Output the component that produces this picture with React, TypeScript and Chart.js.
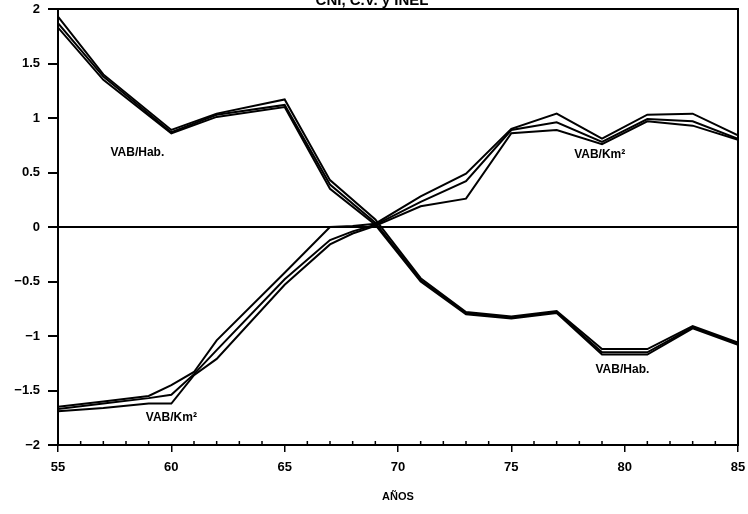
import React, { useEffect, useRef } from "react";
import { Chart, registerables } from "chart.js";

Chart.register(...registerables);

const TITLE = "CNI, C.V. y INEL";
const X_TITLE = "AÑOS";

const habYears = [55, 57, 60, 62, 65, 67, 69, 71, 73, 75, 77, 79, 81, 83, 85];
const hab1 = [1.93, 1.40, 0.89, 1.04, 1.17, 0.43, 0.07, -0.47, -0.78, -0.82, -0.77, -1.12, -1.12, -0.91, -1.06];
const hab2 = [1.87, 1.38, 0.87, 1.03, 1.12, 0.39, 0.04, -0.49, -0.79, -0.83, -0.78, -1.15, -1.15, -0.92, -1.07];
const hab3 = [1.83, 1.35, 0.86, 1.01, 1.10, 0.35, 0.02, -0.50, -0.80, -0.84, -0.79, -1.17, -1.17, -0.93, -1.08];

const kmYears = [55, 57, 59, 60, 61, 62, 65, 67, 68, 69, 71, 73, 75, 77, 79, 81, 83, 85];
const km1 = [-1.65, -1.60, -1.55, -1.45, -1.33, -1.04, -0.42, 0.00, 0.01, 0.03, 0.28, 0.49, 0.90, 1.04, 0.81, 1.03, 1.04, 0.84];
const km2 = [-1.67, -1.62, -1.57, -1.54, -1.35, -1.13, -0.48, -0.12, -0.04, 0.02, 0.23, 0.42, 0.89, 0.96, 0.78, 0.99, 0.97, 0.81];
const km3 = [-1.69, -1.66, -1.62, -1.62, -1.36, -1.21, -0.53, -0.16, -0.06, 0.01, 0.19, 0.26, 0.86, 0.89, 0.76, 0.97, 0.93, 0.80];

// annotation labels: [text, x (year), y (value)]
const labelTexts = ["VAB/Hab.", "VAB/Km²", "VAB/Hab.", "VAB/Km²"];
const labelX = [58.5, 78.9, 79.9, 60.0];
const labelY = [0.68, 0.66, -1.31, -1.75];

const FONT = "'Liberation Sans', Arial, sans-serif";

function pairs(xs: number[], ys: number[]) {
  return xs.map((x, i) => ({ x, y: ys[i] }));
}

export default function App() {
  const ref = useRef<HTMLCanvasElement | null>(null);

  useEffect(() => {
    if (!ref.current) return;
    const lineDs = (data: { x: number; y: number }[]) => ({
      data,
      borderColor: "#000",
      borderWidth: 2,
      pointRadius: 0,
      fill: false,
      tension: 0,
    });

    const decor = {
      id: "decor",
      afterDraw(chart: any) {
        const { ctx, chartArea: a, scales } = chart;
        const xs = scales.x;
        const ys = scales.y;
        ctx.save();
        ctx.strokeStyle = "#000";
        ctx.lineWidth = 2;
        ctx.strokeRect(a.left, a.top, a.right - a.left, a.bottom - a.top);
        ctx.lineWidth = 1.5;
        for (let v = 55; v <= 85; v++) {
          if (v % 5 === 0) continue;
          const px = xs.getPixelForValue(v);
          ctx.beginPath();
          ctx.moveTo(px, a.bottom);
          ctx.lineTo(px, a.bottom - 4);
          ctx.stroke();
        }
        ctx.fillStyle = "#000";
        ctx.font = `bold 12px ${FONT}`;
        ctx.textAlign = "center";
        ctx.textBaseline = "middle";
        labelTexts.forEach((t, i) => {
          ctx.fillText(t, xs.getPixelForValue(labelX[i]), ys.getPixelForValue(labelY[i]));
        });
        ctx.font = `bold 11px ${FONT}`;
        ctx.fillText(X_TITLE, (a.left + a.right) / 2, a.bottom + 52);
        ctx.font = `bold 15px ${FONT}`;
        ctx.textBaseline = "alphabetic";
        ctx.fillText(TITLE, 372, 5);
        ctx.restore();
      },
    };

    const chart = new Chart(ref.current, {
      type: "line",
      data: {
        datasets: [
          lineDs(pairs(habYears, hab1)),
          lineDs(pairs(habYears, hab2)),
          lineDs(pairs(habYears, hab3)),
          lineDs(pairs(kmYears, km1)),
          lineDs(pairs(kmYears, km2)),
          lineDs(pairs(kmYears, km3)),
        ],
      },
      options: {
        animation: false,
        responsive: false,
        layout: { padding: { top: 9, right: 10, left: 0, bottom: 0 } },
        plugins: { legend: { display: false }, tooltip: { enabled: false }, title: { display: false } },
        scales: {
          x: {
            type: "linear",
            min: 55,
            max: 85,
            afterFit: (s: any) => { s.height = 69; s.paddingLeft = 0; s.paddingRight = 0; },
            border: { color: "#000", width: 2 },
            grid: { drawOnChartArea: false, color: "#000", tickColor: "#000", tickLength: 7, lineWidth: 1.5 },
            ticks: {
              stepSize: 5,
              color: "#000",
              padding: 8,
              maxRotation: 0,
              font: { family: FONT, weight: "bold", size: 13 },
            },
          },
          y: {
            type: "linear",
            min: -2,
            max: 2,
            afterFit: (s: any) => { s.width = 58; s.paddingTop = 0; s.paddingBottom = 0; },
            border: { color: "#000", width: 2 },
            grid: {
              drawOnChartArea: true,
              color: (c: any) => (c.tick && c.tick.value === 0 ? "#000" : "rgba(0,0,0,0)"),
              tickColor: "#000",
              tickLength: 10,
              lineWidth: 2,
            },
            ticks: {
              stepSize: 0.5,
              color: "#000",
              padding: 8,
              font: { family: FONT, weight: "bold", size: 13 },
              callback: (v: any) => String(v).replace("-", "\u2212"),
            },
          },
        },
      },
      plugins: [decor],
    } as any);
    return () => chart.destroy();
  }, []);

  return (
    <div style={{ position: "fixed", left: 0, top: 0, width: 748, height: 514, background: "#fff" }}>
      <canvas ref={ref} width={748} height={514} style={{ display: "block" }} />
    </div>
  );
}
